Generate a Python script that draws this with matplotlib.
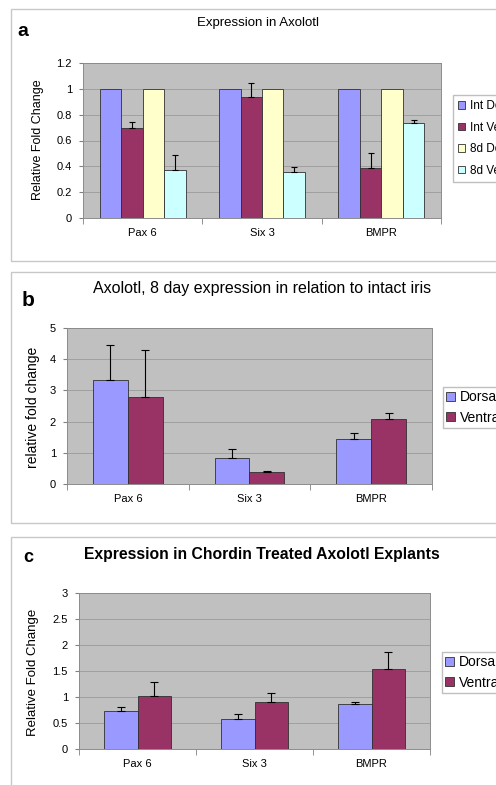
import numpy as np
import matplotlib
matplotlib.use("Agg")
import matplotlib.pyplot as plt
from matplotlib.patches import Rectangle

plt.rcParams['font.family'] = ['Liberation Sans', 'DejaVu Sans']

W, H = 496, 785

# ---------------- data ----------------
genes = ["Pax 6", "Six 3", "BMPR"]

# panel a
a_labels = ["Int Dorsal", "Int Ventral", "8d Dorsal", "8d Ventral"]
a_int_d = [1.0, 1.0, 1.0]
a_int_v = [0.70, 0.935, 0.39]
a_8d_d = [1.0, 1.0, 1.0]
a_8d_v = [0.37, 0.355, 0.735]
a_err_int_v = [0.04, 0.11, 0.11]
a_err_8d_v = [0.12, 0.04, 0.025]
a_yticks = [0, 0.2, 0.4, 0.6, 0.8, 1, 1.2]
a_yticklabels = ["0", "0.2", "0.4", "0.6", "0.8", "1", "1.2"]

# panel b
b_labels = ["Dorsal", "Ventral"]
b_dorsal = [3.32, 0.82, 1.45]
b_ventral = [2.78, 0.375, 2.09]
b_err_dorsal = [1.12, 0.29, 0.20]
b_err_ventral = [1.50, 0.03, 0.18]
b_yticks = [0, 1, 2, 3, 4, 5]

# panel c
c_labels = ["Dorsal", "Ventral"]
c_dorsal = [0.74, 0.57, 0.865]
c_ventral = [1.01, 0.91, 1.535]
c_err_dorsal = [0.06, 0.10, 0.045]
c_err_ventral = [0.27, 0.175, 0.34]
c_yticks = [0, 0.5, 1, 1.5, 2, 2.5, 3]
c_yticklabels = ["0", "0.5", "1", "1.5", "2", "2.5", "3"]

# ---------------- style ----------------
C_BLUE = "#9999FF"
C_PLUM = "#993366"
C_YEL = "#FFFFCC"
C_CYAN = "#CCFFFF"
BG = "#C0C0C0"
GRID = "#9A9A9A"

fig = plt.figure(figsize=(W / 100, H / 100), dpi=100)
fig.patch.set_facecolor("white")


def px_rect(l, t, r, b):
    return [l / W, 1 - b / H, (r - l) / W, (b - t) / H]


def ftext(xp, yp, s, **kw):
    return fig.text(xp / W, 1 - yp / H, s, ha="center", va="center", **kw)


def frame(l, t, r, b):
    fig.patches.append(Rectangle((l / W, 1 - b / H), (r - l) / W, (b - t) / H,
                                 transform=fig.transFigure, fill=False,
                                 edgecolor="#C8C8C8", linewidth=1.0))


def style_axes(ax, yticks, yticklabels, ymax, fs=8):
    ax.set_facecolor(BG)
    ax.set_xlim(-0.5, 2.5)
    ax.set_ylim(0, ymax)
    ax.set_yticks(yticks)
    ax.set_yticklabels(yticklabels, fontsize=fs)
    ax.set_xticks(range(len(genes)))
    ax.set_xticklabels(genes, fontsize=fs)
    ax.tick_params(axis="x", length=0, pad=7)
    ax.set_xticks([-0.5, 0.5, 1.5, 2.5], minor=True)
    ax.tick_params(axis="x", which="minor", length=4, color="#808080")
    ax.tick_params(axis="y", length=3, color="#808080", pad=5)
    ax.yaxis.grid(True, color=GRID, linewidth=0.6)
    ax.set_axisbelow(True)
    for s in ax.spines.values():
        s.set_color("#8C8C8C")
        s.set_linewidth(0.7)


def add_legend(handles, labels, left, top, fs, ls, bp):
    fig.legend(handles, labels, loc="upper left",
               bbox_to_anchor=(left / W, 1 - top / H), fontsize=fs,
               frameon=True, fancybox=False, edgecolor="#B0B0B0",
               handlelength=0.6, handleheight=0.6, handletextpad=0.35,
               labelspacing=ls, borderpad=bp, borderaxespad=0)


x = np.arange(len(genes))
ekw = dict(elinewidth=0.8, capthick=0.8, ecolor="black")

# ---------------- panel a ----------------
frame(11, 9, 520, 261)
ax = fig.add_axes(px_rect(83, 63, 441, 218))
w = 0.18
series_a = [(a_int_d, None, C_BLUE), (a_int_v, a_err_int_v, C_PLUM),
            (a_8d_d, None, C_YEL), (a_8d_v, a_err_8d_v, C_CYAN)]
handles_a = []
for i, (vals, err, col) in enumerate(series_a):
    pos = x + (i - 1.5) * w
    h = ax.bar(pos, vals, w, color=col, edgecolor="#303030", linewidth=0.6)
    handles_a.append(h)
    if err is not None:
        ax.errorbar(pos, vals, yerr=[np.zeros(len(err)), err], fmt="none",
                    capsize=2.5, **ekw)
style_axes(ax, a_yticks, a_yticklabels, 1.2)
ftext(38, 140, "Relative Fold Change", fontsize=9, rotation=90)
ftext(258, 23, "Expression in Axolotl", fontsize=9.5)
ftext(23, 31, "a", fontsize=14, fontweight="bold")
add_legend(handles_a, a_labels, 453, 95, 8.5, 0.8, 0.45)

# ---------------- panel b ----------------
frame(11, 272, 520, 523)
ax = fig.add_axes(px_rect(67, 328, 432, 484))
w = 0.285
handles_b = []
for i, (vals, err, col) in enumerate([(b_dorsal, b_err_dorsal, C_BLUE),
                                      (b_ventral, b_err_ventral, C_PLUM)]):
    pos = x + (i - 0.5) * w
    h = ax.bar(pos, vals, w, color=col, edgecolor="#303030", linewidth=0.6)
    handles_b.append(h)
    ax.errorbar(pos, vals, yerr=[np.zeros(len(err)), err], fmt="none",
                capsize=3, **ekw)
style_axes(ax, b_yticks, [str(v) for v in b_yticks], 5)
ftext(33, 407, "relative fold change", fontsize=10, rotation=90)
ftext(262, 289, "Axolotl, 8 day expression in relation to intact iris",
      fontsize=11.5)
ftext(28, 301, "b", fontsize=15, fontweight="bold")
add_legend(handles_b, b_labels, 443, 387, 10, 0.45, 0.25)

# ---------------- panel c ----------------
frame(11, 537, 520, 800)
ax = fig.add_axes(px_rect(79, 593, 430, 749))
w = 0.29
handles_c = []
for i, (vals, err, col) in enumerate([(c_dorsal, c_err_dorsal, C_BLUE),
                                      (c_ventral, c_err_ventral, C_PLUM)]):
    pos = x + (i - 0.5) * w
    h = ax.bar(pos, vals, w, color=col, edgecolor="#303030", linewidth=0.6)
    handles_c.append(h)
    ax.errorbar(pos, vals, yerr=[np.zeros(len(err)), err], fmt="none",
                capsize=3, **ekw)
style_axes(ax, c_yticks, c_yticklabels, 3)
ftext(33, 672, "Relative Fold Change", fontsize=9.5, rotation=90)
ftext(262, 555, "Expression in Chordin Treated Axolotl Explants",
      fontsize=11.3, fontweight="bold")
ftext(28, 558, "c", fontsize=13, fontweight="bold")
add_legend(handles_c, c_labels, 442, 652, 10, 0.45, 0.25)

fig.savefig("out.png", dpi=100)
